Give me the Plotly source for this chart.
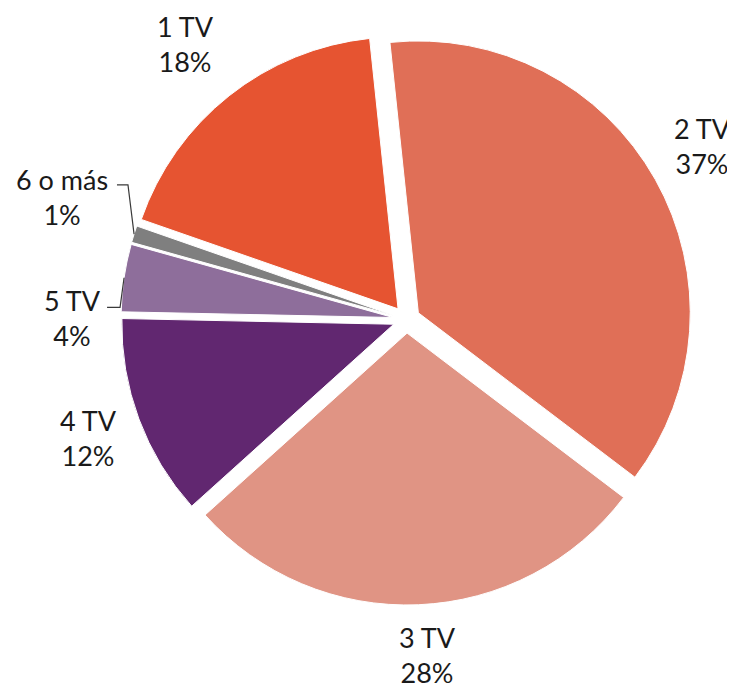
import math
import plotly.graph_objects as go

# ---- data ----
labels = ["2 TV", "3 TV", "4 TV", "5 TV", "6 o más", "1 TV"]
values = [37, 28, 12, 4, 1, 18]

# ---- style ----
colors = ["#E06F57", "#E09484", "#612770", "#8E6E9B", "#7F7F7F", "#E65431"]
W, H = 727, 683
ML, MT, MR, MB = 113, 26, 43, 86
ROT = -6
PULL = 0.05
FONT = dict(family="Lato, Calibri, sans-serif", size=27, color="#1a1a1a")
# label placement (Excel-like): distance from centre in radii, angular nudge in degrees
label_dist = [1.264, 1.238, 1.246, 1.23, 1.345, 1.30]
label_nudge = [-1.0, -1.2, 0.0, -8.2, 2.2, -0.4]
# leader lines: (x offset of text end, x offset of elbow, y offset) relative to label centre, px
leaders = {3: (35, 48, -11), 4: (55, 66, -12)}

PW, PH = W - ML - MR, H - MT - MB
R = min(PW, PH) / (2 + 2 * PULL)
CX, CY = ML + PW / 2, MT + PH / 2


def to_paper(px, py):
    return (px - ML) / PW, 1 - (py - MT) / PH


def polar(angle_deg, dist):
    a = math.radians(angle_deg)
    return CX + dist * math.sin(a), CY - dist * math.cos(a)


total = sum(values)
annotations = []
shapes = []
cum = 0
for i, (lab, v) in enumerate(zip(labels, values)):
    mid = ROT + (cum + v / 2) / total * 360
    cum += v
    lx, ly = polar(mid + label_nudge[i], label_dist[i] * R)
    xp, yp = to_paper(lx, ly)
    annotations.append(dict(
        x=xp, y=yp, xref="paper", yref="paper",
        text=f"{lab}<br>{round(v / total * 100)}%",
        showarrow=False, xanchor="center", yanchor="middle",
        align="center", font=FONT,
    ))
    if i in leaders:
        dx_text, dx_elbow, dy = leaders[i]
        ex, ey = polar(mid, R * (1 + PULL))
        p1 = to_paper(lx + dx_text, ly + dy)
        p2 = to_paper(lx + dx_elbow, ly + dy)
        p3 = to_paper(ex, ey)
        shapes.append(dict(
            type="path", xref="paper", yref="paper",
            path=f"M {p1[0]},{p1[1]} L {p2[0]},{p2[1]} L {p3[0]},{p3[1]}",
            line=dict(color="#3a3a3a", width=1.2),
        ))

fig = go.Figure(go.Pie(
    labels=labels,
    values=values,
    sort=False,
    direction="clockwise",
    rotation=ROT,
    pull=[PULL] * len(values),
    marker=dict(colors=colors, line=dict(color="white", width=1)),
    textinfo="none",
    automargin=False,
    showlegend=False,
    hoverinfo="label+percent",
))

fig.update_layout(
    width=W, height=H,
    margin=dict(l=ML, r=MR, t=MT, b=MB, autoexpand=False),
    paper_bgcolor="white",
    plot_bgcolor="white",
    annotations=annotations,
    shapes=shapes,
)

fig.write_html("out.html")
